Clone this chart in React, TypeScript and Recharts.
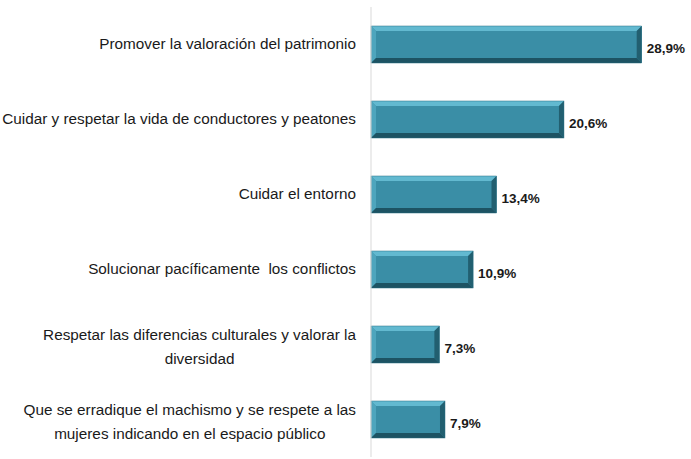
import React from "react";
import { BarChart, Bar, XAxis, YAxis, LabelList } from "recharts";

const categories = [
  "Promover la valoración del patrimonio",
  "Cuidar y respetar la vida de conductores y peatones",
  "Cuidar el entorno",
  "Solucionar pacíficamente  los conflictos",
  "Respetar las diferencias culturales y valorar la|diversidad",
  "Que se erradique el machismo y se respete a las|mujeres indicando en el espacio público",
];
const values = [28.9, 20.6, 13.4, 10.9, 7.3, 7.9];

const data = categories.map((c, i) => ({ name: c, value: values[i] }));

const FONT = '"Liberation Sans", Arial, sans-serif';
const TICK_SIZE = 15.3;

let ctx: CanvasRenderingContext2D | null = null;
function measure(text: string) {
  if (!ctx) ctx = document.createElement("canvas").getContext("2d");
  if (!ctx) return text.length * 7;
  ctx.font = `${TICK_SIZE}px ${FONT}`;
  return ctx.measureText(text).width;
}

function CategoryTick(props: any) {
  const { x, y, payload } = props;
  const lines: string[] = String(payload.value).split("|");
  const right = x - 7;
  const lineH = 24;
  if (lines.length === 1) {
    return (
      <text x={right} y={y} dy={4} textAnchor="end" fontSize={TICK_SIZE} fontFamily={FONT} fill="#1a1a1a" style={{ whiteSpace: "pre" }}>
        {lines[0]}
      </text>
    );
  }
  const w = Math.max(...lines.map(measure));
  const cx = right - w / 2;
  const top = y - ((lines.length - 1) * lineH) / 2 + 7;
  return (
    <text textAnchor="middle" fontSize={TICK_SIZE} fontFamily={FONT} fill="#1a1a1a">
      {lines.map((l, i) => (
        <tspan key={i} x={cx} y={top + i * lineH}>
          {l}
        </tspan>
      ))}
    </text>
  );
}

function BevelBar(props: any) {
  const { x, y, width, height } = props;
  if (!width || width <= 0) return null;
  const b = 5;
  const x2 = x + width;
  const y2 = y + height;
  return (
    <g>
      <rect x={x} y={y} width={width} height={height} fill="#3a8ea6" />
      <polygon points={`${x},${y} ${x2},${y} ${x2 - b},${y + b} ${x + b},${y + b}`} fill="#62b9d0" />
      <polygon points={`${x},${y} ${x + b},${y + b} ${x + b},${y2 - b} ${x},${y2}`} fill="#4ea5bd" />
      <polygon points={`${x2},${y} ${x2},${y2} ${x2 - b},${y2 - b} ${x2 - b},${y + b}`} fill="#225f70" />
      <polygon points={`${x},${y2} ${x + b},${y2 - b} ${x2 - b},${y2 - b} ${x2},${y2}`} fill="#1d5363" />
      <rect x={x} y={y} width={width} height={height} fill="none" stroke="#2a6f82" strokeWidth={0.5} />
    </g>
  );
}

const fmt = (v: any) => `${Number(v).toFixed(1).replace(".", ",")}%`;

export default function App() {
  return (
    <div style={{ position: "absolute", left: 0, top: 0, width: 691, height: 459, background: "#fff" }}>
      <BarChart
        width={691}
        height={459}
        data={data}
        layout="vertical"
        margin={{ top: 7, right: 39, bottom: 2, left: 0 }}
        barCategoryGap="25%"
      >
        <XAxis type="number" domain={[0, 30]} hide />
        <YAxis
          type="category"
          dataKey="name"
          width={371}
          axisLine={{ stroke: "#d9d9d9" }}
          tickLine={false}
          tick={<CategoryTick />}
          interval={0}
        />
        <Bar dataKey="value" barSize={37} shape={<BevelBar />} isAnimationActive={false}>
          <LabelList
            dataKey="value"
            position="right"
            offset={5}
            formatter={fmt}
            style={{ fontFamily: FONT, fontSize: 13.5, fontWeight: "bold", fill: "#1a1a1a" }}
            dy={4}
          />
        </Bar>
      </BarChart>
    </div>
  );
}
